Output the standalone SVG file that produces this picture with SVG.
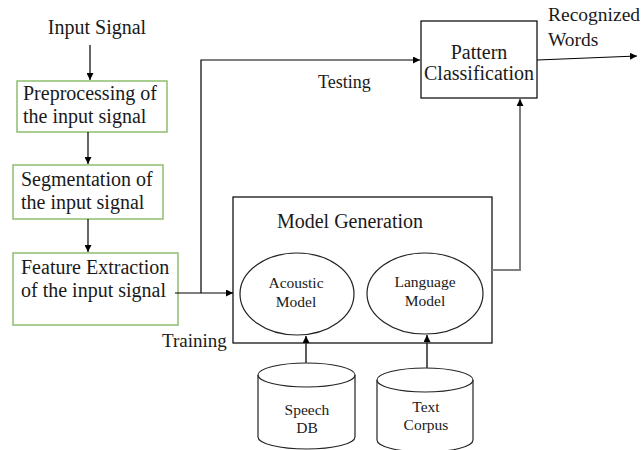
<svg xmlns="http://www.w3.org/2000/svg" width="643" height="450" viewBox="0 0 643 450" font-family="'Liberation Serif', 'Times New Roman', 'DejaVu Serif', serif">
<style>
text{font-family:"Liberation Serif","Times New Roman","DejaVu Serif",serif;fill:#1a1a1a}
.t20{font-size:20px}
.t18{font-size:18px}
.t15{font-size:15.5px}
.green{fill:#fff;stroke:#8fbf6e;stroke-width:1.5}
.box{fill:#fff;stroke:#000;stroke-width:1.2}
.ell{fill:#fff;stroke:#222;stroke-width:1.2}
.ln{fill:none;stroke:#000;stroke-width:1.2}
.gl{fill:none;stroke:#7f7f7f;stroke-width:2}
.dl{fill:none;stroke:#333;stroke-width:1.6}
</style>
<defs>
<marker id="ah" viewBox="0 0 10 10" refX="10" refY="5" markerWidth="7" markerHeight="7" markerUnits="userSpaceOnUse" orient="auto"><path d="M0,0 L10,5 L0,10 z" fill="#000"/></marker>
</defs>
<rect width="643" height="450" fill="#fff"/>
<g id="input-signal"><text class="t20" x="97" y="34" text-anchor="middle">Input Signal</text></g>
<g id="preprocessing">
<rect class="green" x="17" y="81" width="150" height="51"/>
<text class="t20" x="23" y="100">Preprocessing of</text>
<text class="t20" x="23" y="123">the input signal</text>
</g>
<g id="segmentation">
<rect class="green" x="13" y="165" width="150" height="54"/>
<text class="t20" x="21" y="186">Segmentation of</text>
<text class="t20" x="21" y="209">the input signal</text>
</g>
<g id="feature-extraction">
<rect class="green" x="13" y="253" width="165" height="72"/>
<text class="t20" x="21" y="274">Feature Extraction</text>
<text class="t20" x="21" y="297">of the input signal</text>
</g>
<g id="labels">
<text class="t18" x="318" y="88">Testing</text>
<text class="t20" x="162" y="347" style="font-size:19px">Training</text>
<text class="t20" x="548" y="21" style="font-size:19.5px">Recognized</text>
<text class="t20" x="548" y="46" style="font-size:19.5px">Words</text>
</g>
<g id="pattern-classification">
<rect class="box" x="421" y="21" width="116" height="77"/>
<text class="t20" x="479" y="59" text-anchor="middle">Pattern</text>
<text class="t20" x="479" y="80" text-anchor="middle">Classification</text>
</g>
<g id="model-generation">
<rect class="box" x="233" y="197" width="259" height="146"/>
<text class="t20" x="350" y="228" text-anchor="middle">Model Generation</text>
</g>
<g id="acoustic-model">
<ellipse class="ell" cx="297" cy="294" rx="57" ry="41"/>
<text class="t15" x="296" y="288" text-anchor="middle">Acoustic</text>
<text class="t15" x="296" y="307" text-anchor="middle">Model</text>
</g>
<g id="language-model">
<ellipse class="ell" cx="425" cy="293.5" rx="58" ry="40.5"/>
<text class="t15" x="425" y="287" text-anchor="middle">Language</text>
<text class="t15" x="425" y="306" text-anchor="middle">Model</text>
</g>
<g id="speech-db">
<path class="ell" d="M258,375 L258,437 A48.5,12 0 0 0 355,437 L355,375"/>
<ellipse class="ell" cx="306.5" cy="375" rx="48.5" ry="12"/>
<text class="t15" x="307" y="415" text-anchor="middle">Speech</text>
<text class="t15" x="307" y="433" text-anchor="middle">DB</text>
</g>
<g id="text-corpus">
<path class="ell" d="M377,380 L377,440 A48,12 0 0 0 473,440 L473,380"/>
<ellipse class="ell" cx="425" cy="380" rx="48" ry="12"/>
<text class="t15" x="426" y="412" text-anchor="middle">Text</text>
<text class="t15" x="426" y="430" text-anchor="middle">Corpus</text>
</g>
<g id="connectors">
<line class="ln" x1="90" y1="45" x2="90" y2="80" marker-end="url(#ah)"/>
<line class="ln" x1="88" y1="132" x2="88" y2="164" marker-end="url(#ah)"/>
<line class="ln" x1="88" y1="219" x2="88" y2="252" marker-end="url(#ah)"/>
<line class="ln" x1="175" y1="293" x2="233" y2="293" marker-end="url(#ah)"/>
<polyline class="ln" points="201,293 201,60 420,60" marker-end="url(#ah)"/>
<polyline class="gl" points="492,270 520,270 520,99" marker-end="url(#ah)"/>
<line class="ln" x1="537" y1="60" x2="637" y2="56" marker-end="url(#ah)"/>
<line class="dl" x1="306" y1="363" x2="306" y2="336" marker-end="url(#ah)"/>
<line class="dl" x1="427" y1="368" x2="427" y2="335" marker-end="url(#ah)"/>
</g>
</svg>
